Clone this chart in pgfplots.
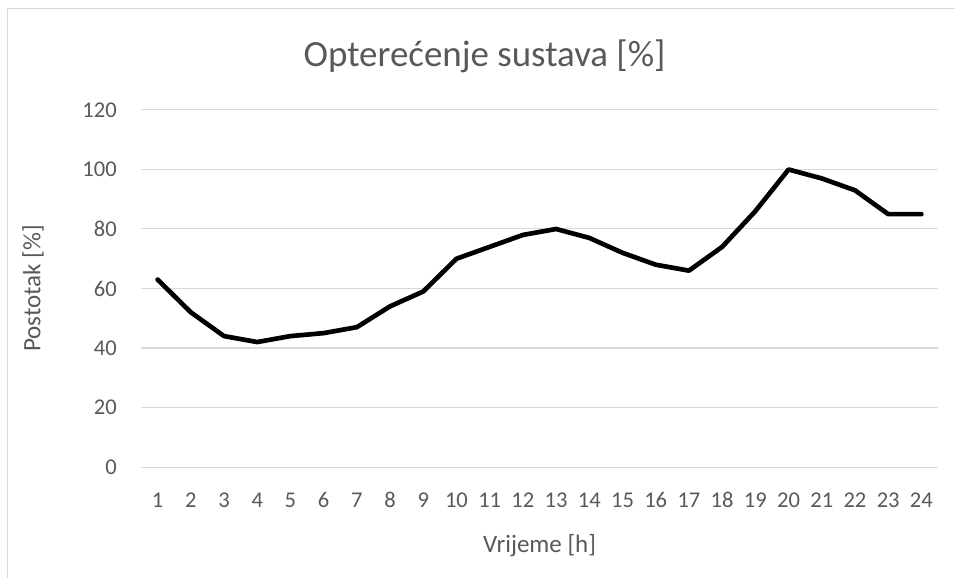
\documentclass[border=0pt]{standalone}
\usepackage{fontspec}
\setmainfont{Carlito}
\usepackage{pgfplots}
\pgfplotsset{compat=1.18}
\definecolor{txt}{HTML}{595959}
\definecolor{gridc}{HTML}{D9D9D9}
\begin{document}
\begin{tikzpicture}
\path[use as bounding box] (0pt,0pt) rectangle (716.25pt,433.5pt);
\draw[gridc, line width=0.75pt] (5.25pt,0pt) -- (5.25pt,426.75pt) -- (716.25pt,426.75pt);
\begin{axis}[
  at={(105.75pt,83.25pt)}, anchor=south west,
  scale only axis, width=597.75pt, height=267.75pt,
  xmin=0.5, xmax=24.5, ymin=0, ymax=120,
  xtick={1,...,24}, ytick={0,20,...,120},
  axis line style={draw=none},
  major tick length=0pt,
  ymajorgrids,
  grid style={gridc, line width=0.75pt},
  clip=false,
  /pgf/number format/assume math mode=true,
  tick label style={font=\fontsize{16.9pt}{20pt}\selectfont, text=txt},
  yticklabel style={anchor=east, inner sep=0pt, xshift=-18pt},
  xticklabel style={anchor=center, inner sep=0pt, yshift=-24.75pt},
  title={Opterećenje sustava [\%]},
  title style={at={(axis description cs:0.431,1.128)}, anchor=center, inner sep=0pt, font=\fontsize{27.7pt}{32pt}\selectfont, text=txt},
  xlabel={Vrijeme [h]},
  xlabel style={at={(axis description cs:0.5,-0.2213)}, anchor=center, inner sep=0pt, font=\fontsize{18.75pt}{22pt}\selectfont, text=txt},
  ylabel={Postotak [\%]},
  ylabel style={at={(axis description cs:-0.1355,0.5)}, anchor=center, inner sep=0pt, font=\fontsize{18.75pt}{22pt}\selectfont, text=txt},
]
\addplot[black, line width=3.5pt, line join=round, line cap=round, mark=none] coordinates {
(1,63) (2,52) (3,44) (4,42) (5,44) (6,45) (7,47) (8,54) (9,59) (10,70)
(11,74) (12,78) (13,80) (14,77) (15,72) (16,68) (17,66) (18,74) (19,86) (20,100)
(21,97) (22,93) (23,85) (24,85)
};
\end{axis}
\end{tikzpicture}
\end{document}
